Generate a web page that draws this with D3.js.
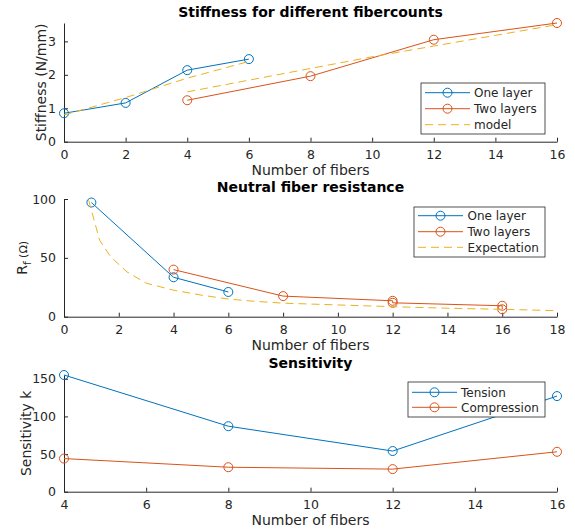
<!DOCTYPE html>
<html><head><meta charset="utf-8">
<script src="https://cdn.jsdelivr.net/npm/d3@7"></script>
<style>body{margin:0;background:#fff} text{font-family:"DejaVu Sans",sans-serif}</style>
</head><body><svg id="c" width="575" height="532"></svg>
<script>
// ---- data ----
const stiffOneX = [0, 2, 4, 6];
const stiffOneY = [0.85, 1.16, 2.14, 2.47];
const stiffTwoX = [4, 8, 12, 16];
const stiffTwoY = [1.24, 1.96, 3.05, 3.55];
const modelAX = [0, 2, 4, 6];
const modelAY = [0.8, 1.32, 1.9, 2.4];
const modelBX = [4, 6, 8, 10, 12, 14, 16];
const modelBY = [1.49, 1.84, 2.19, 2.54, 2.86, 3.18, 3.5];

const resOneX = [1, 4, 6];
const resOneY = [97, 33.5, 21];
const resTwoX = [4, 8, 12, 12, 16, 16];
const resTwoY = [40, 17.5, 13.5, 11.8, 9.3, 6.3];
const expX = [0.9, 1.1, 1.3, 1.7, 2.3, 3, 4, 5, 6, 7, 8, 10, 12, 14, 16, 18];
const expY = [99, 82, 65, 51, 38, 28.5, 22.5, 18.4, 15, 13, 11.5, 10, 8.5, 7.2, 6.3, 5.1];

const sensX = [4, 8, 12, 16];
const tensionY = [155, 87, 54, 127];
const compressionY = [44, 32.5, 30, 53];

const ticks1X = [0, 2, 4, 6, 8, 10, 12, 14, 16];
const ticks1Y = [0, 1, 2, 3];
const ticks2X = [0, 2, 4, 6, 8, 10, 12, 14, 16, 18];
const ticks2Y = [0, 50, 100];
const ticks3X = [4, 6, 8, 10, 12, 14, 16];
const ticks3Y = [0, 50, 100, 150];

const BLUE = "#0072BD", ORANGE = "#D95319", YELLOW = "#EDB120", AX = "#262626";

const svg = d3.select("#c");
const L = 64, R = 557;

function zip(xs, ys){ return xs.map((x,i)=>[x, ys[i]]); }

function panel(o){
  const g = svg.append("g");
  const x = d3.scaleLinear().domain(o.xd).range([L, R]);
  const y = d3.scaleLinear().domain(o.yd).range([o.bottom, o.top]);
  const fmt = d3.format("d");
  const xa = d3.axisBottom(x).tickValues(o.xt).tickFormat(fmt).tickSizeInner(-4).tickSizeOuter(0).tickPadding(8);
  const ya = d3.axisLeft(y).tickValues(o.yt).tickFormat(fmt).tickSizeInner(-4).tickSizeOuter(0).tickPadding(8);
  const gx = g.append("g").attr("transform", `translate(0,${o.bottom})`).call(xa);
  const gy = g.append("g").attr("transform", `translate(${L},0)`).call(ya);
  [gx, gy].forEach(a=>{
    a.select(".domain").attr("stroke", AX).attr("stroke-width", 1);
    a.selectAll(".tick line").attr("stroke", AX);
    a.selectAll(".tick text").attr("fill", AX).style("font-size", "12.5px").style("font-family", '"DejaVu Sans",sans-serif');
  });
  const line = d3.line().x(d=>x(d[0])).y(d=>y(d[1]));
  o.series.forEach(s=>{
    const pts = zip(s.x, s.y);
    g.append("path").attr("d", line(pts)).attr("fill","none").attr("stroke", s.color)
      .attr("stroke-width", 1).attr("stroke-dasharray", s.dash ? "8,5" : null);
    if (s.marker) {
      g.selectAll(null).data(pts).enter().append("circle")
        .attr("cx", d=>x(d[0])).attr("cy", d=>y(d[1])).attr("r", 4.5)
        .attr("fill","none").attr("stroke", s.color).attr("stroke-width", 1);
    }
  });
  g.append("text").attr("x", (L+R)/2).attr("y", o.titleY).attr("text-anchor","middle")
    .style("font-size","14px").style("font-weight","bold").attr("fill","#000").text(o.title);
  g.append("text").attr("x", (L+R)/2).attr("y", o.xlabelY).attr("text-anchor","middle")
    .style("font-size","14px").attr("fill", AX).text("Number of fibers");
  const yl = g.append("text").attr("transform", `translate(${o.ylabelX},${(o.top+o.bottom)/2}) rotate(-90)`)
    .attr("text-anchor","middle").style("font-size","14px").attr("fill", AX);
  o.ylabel(yl);
  const lg = o.legend;
  const lgg = g.append("g");
  lgg.append("rect").attr("x", lg.x0).attr("y", lg.y0).attr("width", lg.x1-lg.x0).attr("height", lg.y1-lg.y0)
    .attr("fill","#fff").attr("stroke", AX).attr("stroke-width", 0.8);
  lg.items.forEach((it, i)=>{
    const yy = lg.rows[i];
    lgg.append("line").attr("x1", lg.lx0).attr("x2", lg.lx1).attr("y1", yy).attr("y2", yy)
      .attr("stroke", it.color).attr("stroke-width", 1).attr("stroke-dasharray", it.dash ? "8,5" : null);
    if (it.marker) lgg.append("circle").attr("cx", (lg.lx0+lg.lx1)/2).attr("cy", yy).attr("r", 4.5)
      .attr("fill","none").attr("stroke", it.color);
    lgg.append("text").attr("x", lg.tx).attr("y", yy).attr("dy","0.35em").style("font-size","12px")
      .attr("fill", AX).text(it.label);
  });
}

panel({
  top: 23, bottom: 141.7, xd: [0,16], yd: [0,3.55], xt: ticks1X, yt: ticks1Y,
  title: "Stiffness for different fibercounts", titleY: 17, xlabelY: 175, ylabelX: 46,
  ylabel: t=>t.text("Stiffness (N/mm)"),
  series: [
    {x: stiffOneX, y: stiffOneY, color: BLUE, marker: true},
    {x: stiffTwoX, y: stiffTwoY, color: ORANGE, marker: true},
    {x: modelAX, y: modelAY, color: YELLOW, dash: true},
    {x: modelBX, y: modelBY, color: YELLOW, dash: true}
  ],
  legend: {x0: 421, x1: 545, y0: 83, y1: 134, lx0: 425, lx1: 470, tx: 474, rows: [92.7, 108.7, 124.7],
    items: [{label:"One layer", color: BLUE, marker:true},{label:"Two layers", color: ORANGE, marker:true},{label:"model", color: YELLOW, dash:true}]}
});

panel({
  top: 199, bottom: 316.7, xd: [0,18], yd: [0,100], xt: ticks2X, yt: ticks2Y,
  title: "Neutral fiber resistance", titleY: 192, xlabelY: 350, ylabelX: 27,
  ylabel: t=>{ t.append("tspan").text("R"); t.append("tspan").attr("dy", 4).style("font-size","10.5px").text("f");
               t.append("tspan").attr("dy", -4).style("font-size","11px").text(" (Ω)"); },
  series: [
    {x: resOneX, y: resOneY, color: BLUE, marker: true},
    {x: resTwoX, y: resTwoY, color: ORANGE, marker: true},
    {x: expX, y: expY, color: YELLOW, dash: true}
  ],
  legend: {x0: 414, x1: 545, y0: 207, y1: 257, lx0: 418, lx1: 463, tx: 467.5, rows: [215.7, 231.7, 247.3],
    items: [{label:"One layer", color: BLUE, marker:true},{label:"Two layers", color: ORANGE, marker:true},{label:"Expectation", color: YELLOW, dash:true}]}
});

panel({
  top: 375, bottom: 491.7, xd: [4,16], yd: [0,155], xt: ticks3X, yt: ticks3Y,
  title: "Sensitivity", titleY: 368, xlabelY: 525, ylabelX: 31,
  ylabel: t=>t.text("Sensitivity k"),
  series: [
    {x: sensX, y: tensionY, color: BLUE, marker: true},
    {x: sensX, y: compressionY, color: ORANGE, marker: true}
  ],
  legend: {x0: 408, x1: 545, y0: 382, y1: 417, lx0: 412, lx1: 457, tx: 461, rows: [392.3, 407.3],
    items: [{label:"Tension", color: BLUE, marker:true},{label:"Compression", color: ORANGE, marker:true}]}
});
</script></body></html>
